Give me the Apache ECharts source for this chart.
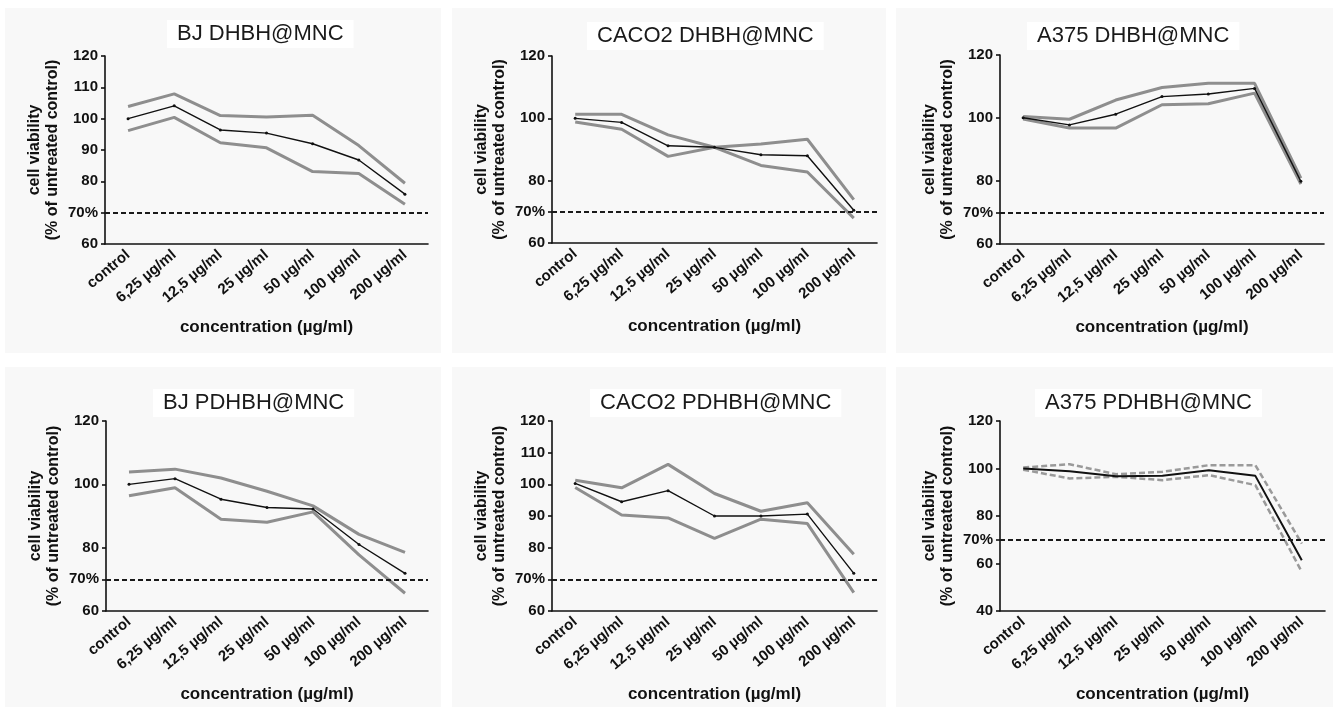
<!DOCTYPE html>
<html>
<head>
<meta charset="utf-8">
<script src="https://cdn.jsdelivr.net/npm/echarts@6/dist/echarts.min.js"></script>
<style>
  html, body { margin: 0; padding: 0; background: #fff; }
  #chart { width: 1333px; height: 710px; }
</style>
</head>
<body>
<div id="chart"></div>
<script>
// ---------- data ----------
const categories = ['control', '6,25 µg/ml', '12,5 µg/ml', '25 µg/ml', '50 µg/ml', '100 µg/ml', '200 µg/ml'];

const panelTitles = ['BJ DHBH@MNC', 'CACO2 DHBH@MNC', 'A375 DHBH@MNC', 'BJ PDHBH@MNC', 'CACO2 PDHBH@MNC', 'A375 PDHBH@MNC'];

const bjDhbhMean  = [100.0, 104.1, 96.4, 95.4, 92.0, 86.8, 75.9];
const bjDhbhUpper = [103.9, 107.9, 101.0, 100.5, 101.1, 91.4, 79.4];
const bjDhbhLower = [96.2, 100.4, 92.3, 90.7, 83.1, 82.5, 72.7];

const caco2DhbhMean  = [100.0, 98.7, 91.2, 90.7, 88.3, 88.0, 70.5];
const caco2DhbhUpper = [101.3, 101.3, 94.7, 90.7, 91.8, 93.3, 73.9];
const caco2DhbhLower = [98.8, 96.5, 87.8, 90.7, 84.9, 82.8, 68.0];

const a375DhbhMean  = [100.1, 97.8, 101.2, 106.8, 107.6, 109.4, 79.9];
const a375DhbhUpper = [100.5, 99.6, 105.7, 109.7, 111.0, 111.0, 80.9];
const a375DhbhLower = [99.7, 96.8, 96.8, 104.2, 104.5, 107.9, 79.0];

const bjPdhbhMean  = [100.0, 101.8, 95.3, 92.7, 92.2, 81.0, 71.9];
const bjPdhbhUpper = [103.9, 104.8, 102.0, 97.8, 93.2, 84.2, 78.5];
const bjPdhbhLower = [96.4, 98.9, 89.0, 88.0, 91.3, 77.7, 65.6];

const caco2PdhbhMean  = [100.3, 94.5, 98.0, 90.0, 90.0, 90.6, 71.9];
const caco2PdhbhUpper = [101.3, 98.9, 106.3, 97.1, 91.5, 94.2, 77.9];
const caco2PdhbhLower = [99.0, 90.3, 89.4, 82.9, 89.0, 87.6, 65.8];

const a375PdhbhMean  = [100.0, 98.8, 96.7, 96.9, 99.3, 96.9, 61.4];
const a375PdhbhUpper = [100.4, 101.8, 97.6, 98.6, 101.4, 101.4, 68.4];
const a375PdhbhLower = [99.5, 95.8, 96.5, 95.1, 97.2, 93.0, 56.5];

const threshold = 70;

const yTicks1 = [60, 70, 80, 90, 100, 110, 120];
const yTicks2 = [60, 70, 80, 100, 120];
const yTicks6 = [40, 60, 70, 80, 100, 120];

// ---------- layout / style ----------
const FONT = '"Liberation Sans", Arial, Helvetica, sans-serif';
const panels = [
  { mean: bjDhbhMean, upper: bjDhbhUpper, lower: bjDhbhLower, ticks: yTicks1, min: 60, max: 120,
    grid: { left: 105, top: 56, width: 323, height: 188 }, title: { left: 167, top: 20 }, bg: [5, 8, 436, 345] },
  { mean: caco2DhbhMean, upper: caco2DhbhUpper, lower: caco2DhbhLower, ticks: yTicks2, min: 60, max: 120,
    grid: { left: 552, top: 56, width: 325, height: 187 }, title: { left: 587, top: 22 }, bg: [452, 8, 434, 345] },
  { mean: a375DhbhMean, upper: a375DhbhUpper, lower: a375DhbhLower, ticks: yTicks2, min: 60, max: 120,
    grid: { left: 1000, top: 55, width: 324, height: 189 }, title: { left: 1027, top: 22 }, bg: [896, 8, 437, 345] },
  { mean: bjPdhbhMean, upper: bjPdhbhUpper, lower: bjPdhbhLower, ticks: yTicks2, min: 60, max: 120,
    grid: { left: 106, top: 421, width: 322, height: 190 }, title: { left: 153, top: 389 }, bg: [5, 367, 436, 340] },
  { mean: caco2PdhbhMean, upper: caco2PdhbhUpper, lower: caco2PdhbhLower, ticks: yTicks1, min: 60, max: 120,
    grid: { left: 552, top: 421, width: 325, height: 190 }, title: { left: 590, top: 389 }, bg: [452, 367, 434, 340] },
  { mean: a375PdhbhMean, upper: a375PdhbhUpper, lower: a375PdhbhLower, ticks: yTicks6, min: 40, max: 120,
    grid: { left: 1000, top: 421, width: 325, height: 190 }, title: { left: 1035, top: 389 }, bg: [896, 367, 437, 340] , dashedBand: true }
];

const grids = [], xAxes = [], yAxes = [], series = [], titles = [], graphics = [];

panels.forEach((p, i) => {
  graphics.push({ type: 'rect', z: -10, shape: { x: p.bg[0], y: p.bg[1], width: p.bg[2], height: p.bg[3] },
                  style: { fill: '#f8f8f8' } });
  titles.push({
    text: panelTitles[i], left: p.title.left, top: p.title.top,
    backgroundColor: '#ffffff', padding: [3, 10],
    textStyle: { fontFamily: FONT, fontSize: 22, fontWeight: 'normal', color: '#1a1a1a' }
  });
  grids.push(Object.assign({ containLabel: false }, p.grid));
  xAxes.push({
    type: 'category', gridIndex: i, data: categories, boundaryGap: true,
    axisLine: { lineStyle: { color: '#111', width: 1.6 } },
    axisTick: { alignWithLabel: true, length: 5, lineStyle: { color: '#111', width: 1.6 } },
    axisLabel: { interval: 0, rotate: 40, margin: 9, color: '#111', fontFamily: FONT, fontWeight: 'bold', fontSize: 15 },
    splitLine: { show: false },
    name: 'concentration (µg/ml)', nameLocation: 'middle', nameGap: 75,
    nameTextStyle: { color: '#111', fontFamily: FONT, fontWeight: 'bold', fontSize: 17 }
  });
  yAxes.push({
    type: 'value', gridIndex: i, min: p.min, max: p.max,
    axisLine: { show: true, lineStyle: { color: '#111', width: 1.6 } },
    axisTick: { show: true, length: 4, customValues: p.ticks, lineStyle: { color: '#111', width: 1.6 } },
    axisLabel: { customValues: p.ticks, margin: 7, color: '#111', fontFamily: FONT, fontWeight: 'bold', fontSize: 15,
                 formatter: v => (v === threshold ? threshold + '%' : String(v)) },
    splitLine: { show: false },
    name: 'cell viability\n(% of untreated control)', nameLocation: 'middle', nameGap: 43,
    nameTextStyle: { color: '#111', fontFamily: FONT, fontWeight: 'bold', fontSize: 16, lineHeight: 18 }
  });
  const bandStyle = p.dashedBand
    ? { color: '#9a9a9a', width: 2.5, type: [6, 3] }
    : { color: '#8e8e8e', width: 3 };
  series.push({ type: 'line', xAxisIndex: i, yAxisIndex: i, data: p.upper, symbol: 'none',
                lineStyle: bandStyle, z: 2, animation: false });
  series.push({ type: 'line', xAxisIndex: i, yAxisIndex: i, data: p.lower, symbol: 'none',
                lineStyle: bandStyle, z: 2, animation: false });
  series.push({
    type: 'line', xAxisIndex: i, yAxisIndex: i, data: p.mean,
    symbol: p.dashedBand ? 'none' : 'circle', symbolSize: 3, showAllSymbol: true,
    itemStyle: { color: '#111' },
    lineStyle: { color: '#111', width: p.dashedBand ? 2 : 1.4 }, z: 3, animation: false,
    markLine: {
      silent: true, symbol: 'none', label: { show: false }, animation: false,
      lineStyle: { color: '#1a1a1a', width: 2, type: [5, 3] },
      data: [{ yAxis: threshold }]
    }
  });
});

const chart = echarts.init(document.getElementById('chart'), null, { renderer: 'canvas' });
chart.setOption({
  backgroundColor: '#ffffff',
  animation: false,
  title: titles,
  grid: grids,
  xAxis: xAxes,
  yAxis: yAxes,
  series: series,
  graphic: graphics
});
</script>
</body>
</html>
